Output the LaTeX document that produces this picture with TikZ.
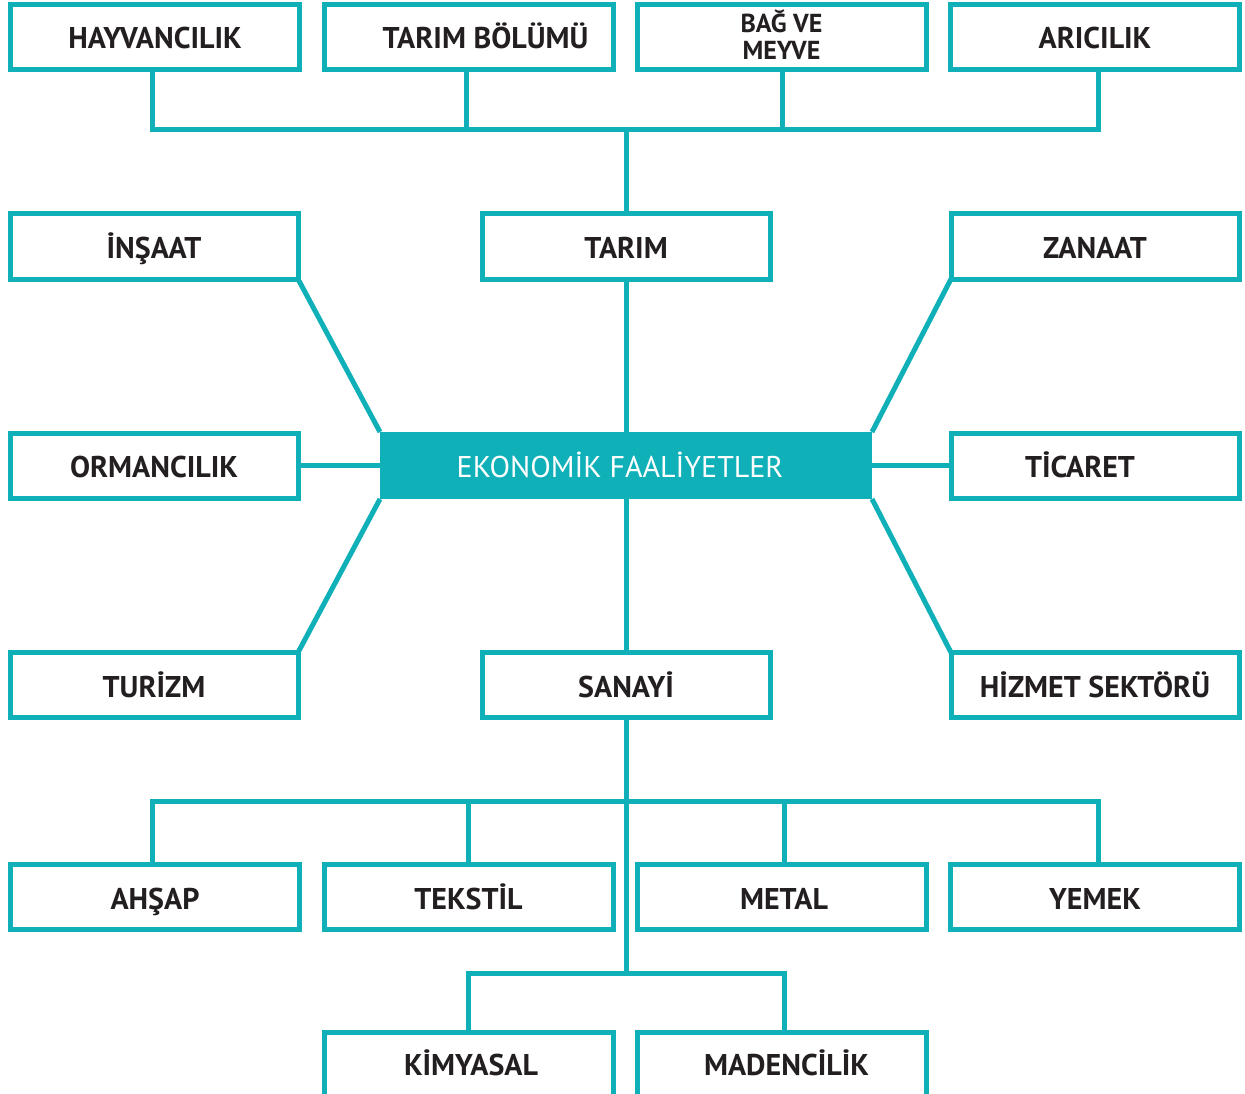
\documentclass[tikz,border=0pt]{standalone}
\usepackage{fontspec}
\setmainfont{PT Sans}
\definecolor{teal1}{RGB}{16,176,185}
\definecolor{ink}{RGB}{35,31,32}
\begin{document}
\begin{tikzpicture}[x=1pt,y=-1pt,
  box/.style={draw=teal1, line width=5pt, minimum width=289pt, minimum height=65pt,
    inner sep=0pt, outer sep=0pt, text=ink, text height=24pt, text depth=0pt,
    font=\fontsize{30}{32}\selectfont\bfseries},
  midbox/.style={box, minimum width=288pt},
  openbox/.style={box, minimum height=80pt, text height=7pt},
  core/.style={fill=teal1, minimum width=492pt, minimum height=67pt, inner sep=0pt,
    outer sep=0pt, text=white, text height=24pt, text depth=0pt,
    font=\fontsize{30}{32}\selectfont},
  link/.style={draw=teal1, line width=5pt}]
\useasboundingbox (0,0) rectangle (1245,1094);
\begin{scope}
\clip (0,0) rectangle (1245,1094);
% top row
\node[box] (hay)  at (155,37)   {HAYVANCILIK};
\node[box] (tbol) at (468.5,37) {\hspace*{34pt}TARIM BÖLÜMÜ};
\node[box, align=center, text height=46pt, text depth=0pt,
  font=\fontsize{26}{27}\selectfont\bfseries] (bag) at (781.5,37) {BAĞ VE\\MEYVE};
\node[box] (ari)  at (1095,37)  {ARICILIK};
% second row
\node[midbox] (ins)   at (154,246.5)  {İNŞAAT};
\node[midbox] (tarim) at (626,246.5)  {TARIM};
\node[midbox] (zan)   at (1095,246.5) {ZANAAT};
% third row
\node[midbox] (orm)  at (154,465.5)  {ORMANCILIK};
\node[core]   (ekon) at (626,465.5)  {EKONOMİK FAALİYETLER\hspace*{12pt}};
\node[midbox] (tic)  at (1095,465.5) {TİCARET\hspace*{30pt}};
% fourth row
\node[midbox] (tur) at (154,685)  {TURİZM};
\node[midbox] (san) at (626,685)  {SANAYİ};
\node[midbox] (hiz) at (1095,685) {HİZMET SEKTÖRÜ};
% fifth row
\node[box] (ahs) at (155,897)   {AHŞAP};
\node[box] (tek) at (468.5,897) {TEKSTİL};
\node[box] (met) at (781.5,897) {METAL\hspace*{-5pt}};
\node[box] (yem) at (1095,897)  {YEMEK};
% sixth row (cut by the page edge)
\node[openbox] (kim) at (468.5,1072) {KİMYASAL\hspace*{-5pt}};
\node[openbox] (mad) at (781.5,1072) {MADENCİLİK\hspace*{-10pt}};
% junction points
\coordinate (topbar) at (626,130);
\coordinate (botbar) at (626,801);
\coordinate (kimbar) at (626,973);
% top tree
\draw[link] ([xshift=-3pt]hay.south) |- (topbar) -| ([xshift=3pt]ari.south);
\draw[link] ([xshift=-2.5pt]tbol.south) -- ([xshift=-2.5pt]tbol.south |- topbar);
\draw[link] ([xshift=0.5pt]bag.south) -- ([xshift=0.5pt]bag.south |- topbar);
\draw[link] (topbar) -- (tarim.north);
% centre
\draw[link] (tarim.south) -- (ekon.north);
\draw[link] (ekon.south) -- (san.north);
\draw[link] (orm.east) -- (ekon.west);
\draw[link] (ekon.east) -- (tic.west);
\draw[link] (ins.south east) -- (ekon.north west);
\draw[link] (zan.south west) -- (ekon.north east);
\draw[link] (tur.north east) -- (ekon.south west);
\draw[link] (hiz.north west) -- (ekon.south east);
% bottom tree
\draw[link] (san.south) -- (kimbar);
\draw[link] ([xshift=-3pt]ahs.north) |- (botbar) -| ([xshift=3pt]yem.north);
\draw[link] (tek.north) -- (tek.north |- botbar);
\draw[link] ([xshift=2.5pt]met.north) -- ([xshift=2.5pt]met.north |- botbar);
\draw[link] (kim.north) |- (kimbar) -| ([xshift=2.5pt]mad.north);
\end{scope}
\end{tikzpicture}
\end{document}
